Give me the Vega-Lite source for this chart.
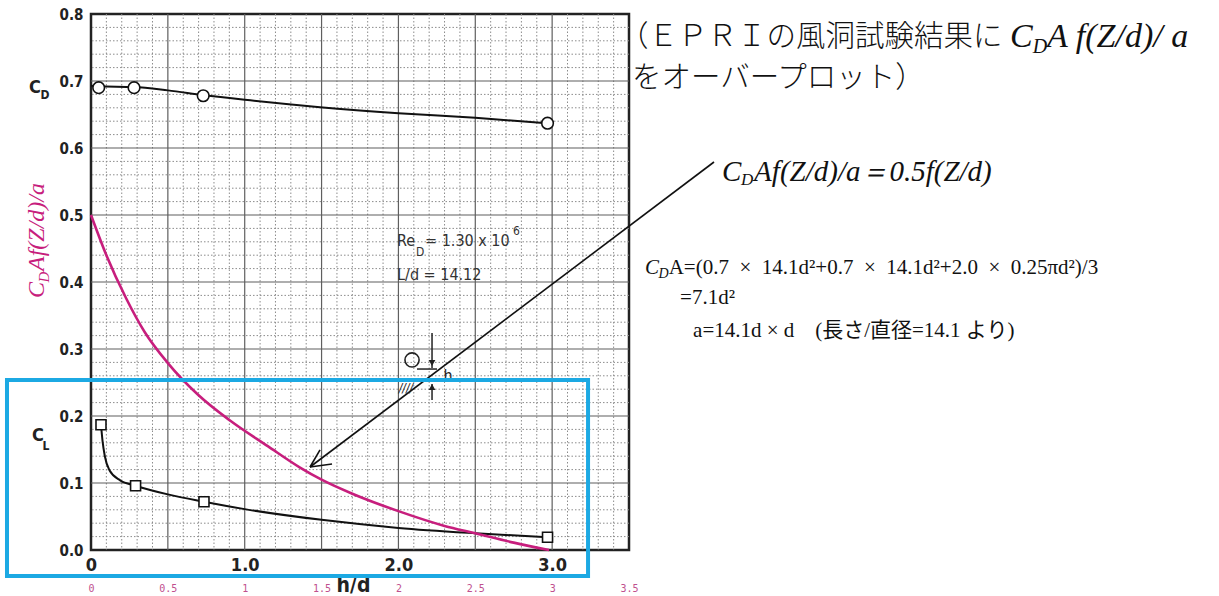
{
  "$schema": "https://vega.github.io/schema/vega-lite/v6.json",
  "width": 538,
  "height": 536,
  "autosize": {"type": "none"},
  "padding": {"left": 91, "top": 14, "right": 590, "bottom": 46},
  "background": "white",
  "config": {"view": {"stroke": "#222", "strokeWidth": 2.5}},
  "resolve": {"axis": {"x": "independent", "y": "independent"}},
  "datasets": {
    "gridx": [
      {"v": 0.1, "k": "minor"}, {"v": 0.2, "k": "minor"}, {"v": 0.3, "k": "minor"}, {"v": 0.4, "k": "minor"},
      {"v": 0.6, "k": "minor"}, {"v": 0.7, "k": "minor"}, {"v": 0.8, "k": "minor"}, {"v": 0.9, "k": "minor"},
      {"v": 1.1, "k": "minor"}, {"v": 1.2, "k": "minor"}, {"v": 1.3, "k": "minor"}, {"v": 1.4, "k": "minor"},
      {"v": 1.6, "k": "minor"}, {"v": 1.7, "k": "minor"}, {"v": 1.8, "k": "minor"}, {"v": 1.9, "k": "minor"},
      {"v": 2.1, "k": "minor"}, {"v": 2.2, "k": "minor"}, {"v": 2.3, "k": "minor"}, {"v": 2.4, "k": "minor"},
      {"v": 2.6, "k": "minor"}, {"v": 2.7, "k": "minor"}, {"v": 2.8, "k": "minor"}, {"v": 2.9, "k": "minor"},
      {"v": 3.1, "k": "minor"}, {"v": 3.2, "k": "minor"}, {"v": 3.3, "k": "minor"}, {"v": 3.4, "k": "minor"},
      {"v": 0.5, "k": "major"}, {"v": 1.0, "k": "major"}, {"v": 1.5, "k": "major"}, {"v": 2.0, "k": "major"},
      {"v": 2.5, "k": "major"}, {"v": 3.0, "k": "major"}
    ],
    "gridy": [
      {"v": 0.02, "k": "minor"}, {"v": 0.04, "k": "minor"}, {"v": 0.06, "k": "minor"}, {"v": 0.08, "k": "minor"},
      {"v": 0.12, "k": "minor"}, {"v": 0.14, "k": "minor"}, {"v": 0.16, "k": "minor"}, {"v": 0.18, "k": "minor"},
      {"v": 0.22, "k": "minor"}, {"v": 0.24, "k": "minor"}, {"v": 0.26, "k": "minor"}, {"v": 0.28, "k": "minor"},
      {"v": 0.32, "k": "minor"}, {"v": 0.34, "k": "minor"}, {"v": 0.36, "k": "minor"}, {"v": 0.38, "k": "minor"},
      {"v": 0.42, "k": "minor"}, {"v": 0.44, "k": "minor"}, {"v": 0.46, "k": "minor"}, {"v": 0.48, "k": "minor"},
      {"v": 0.52, "k": "minor"}, {"v": 0.54, "k": "minor"}, {"v": 0.56, "k": "minor"}, {"v": 0.58, "k": "minor"},
      {"v": 0.62, "k": "minor"}, {"v": 0.64, "k": "minor"}, {"v": 0.66, "k": "minor"}, {"v": 0.68, "k": "minor"},
      {"v": 0.72, "k": "minor"}, {"v": 0.74, "k": "minor"}, {"v": 0.76, "k": "minor"}, {"v": 0.78, "k": "minor"},
      {"v": 0.1, "k": "major"}, {"v": 0.2, "k": "major"}, {"v": 0.3, "k": "major"}, {"v": 0.4, "k": "major"},
      {"v": 0.5, "k": "major"}, {"v": 0.6, "k": "major"}, {"v": 0.7, "k": "major"}
    ],
    "cd": [
      {"h": 0.0, "v": 0.693}, {"h": 0.05, "v": 0.692}, {"h": 0.28, "v": 0.691}, {"h": 0.5, "v": 0.686},
      {"h": 0.73, "v": 0.679}, {"h": 1.0, "v": 0.672}, {"h": 1.49, "v": 0.661}, {"h": 2.0, "v": 0.652},
      {"h": 2.5, "v": 0.645}, {"h": 2.97, "v": 0.637}
    ],
    "cdpts": [
      {"h": 0.05, "v": 0.69}, {"h": 0.28, "v": 0.69}, {"h": 0.73, "v": 0.678}, {"h": 2.97, "v": 0.637}
    ],
    "cl": [
      {"h": 0.065, "v": 0.187}, {"h": 0.075, "v": 0.163}, {"h": 0.09, "v": 0.14}, {"h": 0.12, "v": 0.119},
      {"h": 0.19, "v": 0.104}, {"h": 0.29, "v": 0.096}, {"h": 0.5, "v": 0.083}, {"h": 0.735, "v": 0.072},
      {"h": 1.0, "v": 0.061}, {"h": 1.5, "v": 0.045}, {"h": 2.0, "v": 0.033}, {"h": 2.5, "v": 0.025},
      {"h": 2.97, "v": 0.019}
    ],
    "clpts": [
      {"h": 0.065, "v": 0.187}, {"h": 0.29, "v": 0.096}, {"h": 0.735, "v": 0.072}, {"h": 2.97, "v": 0.019}
    ],
    "pink": [
      {"h": 0.0, "v": 0.5}, {"h": 0.1, "v": 0.44}, {"h": 0.23, "v": 0.375}, {"h": 0.35, "v": 0.325},
      {"h": 0.5, "v": 0.279}, {"h": 0.7, "v": 0.231}, {"h": 0.9, "v": 0.194}, {"h": 1.15, "v": 0.155},
      {"h": 1.36, "v": 0.123}, {"h": 1.5, "v": 0.105}, {"h": 1.7, "v": 0.084}, {"h": 2.0, "v": 0.058},
      {"h": 2.3, "v": 0.036}, {"h": 2.5, "v": 0.025}, {"h": 2.75, "v": 0.011}, {"h": 2.98, "v": 0.0}
    ],
    "notes": [
      {"g": "jp", "x": 3.435, "y": 0.766, "t": "（ＥＰＲＩの風洞試験結果に"},
      {"g": "jp", "x": 3.519, "y": 0.705, "t": "をオーバープロット）"},
      {"g": "it34", "x": 5.979, "y": 0.766, "t": "C"},
      {"g": "sub20", "x": 6.127, "y": 0.751, "t": "D"},
      {"g": "it34", "x": 6.22, "y": 0.766, "t": "A f(Z/d)/ a"},
      {"g": "it29", "x": 4.105, "y": 0.564, "t": "C"},
      {"g": "sub17", "x": 4.229, "y": 0.552, "t": "D"},
      {"g": "it29", "x": 4.314, "y": 0.564, "t": "Af(Z/d)/a＝0.5f(Z/d)"},
      {"g": "it21", "x": 3.604, "y": 0.421, "t": "C"},
      {"g": "sub14", "x": 3.692, "y": 0.412, "t": "D"},
      {"g": "rm21", "x": 3.758, "y": 0.421, "t": "A=(0.7\u2002×\u200214.1d²+0.7\u2002×\u200214.1d²+2.0\u2002×\u20020.25πd²)/3"},
      {"g": "rm21", "x": 3.832, "y": 0.376, "t": "=7.1d²"},
      {"g": "rm21", "x": 3.917, "y": 0.327, "t": "a=14.1d × d"},
      {"g": "rm21", "x": 4.711, "y": 0.327, "t": "(長さ/直径=14.1 より)"},
      {"g": "ax18", "x": -0.3644, "y": 0.6896, "t": "C"},
      {"g": "ax12", "x": -0.2993, "y": 0.679, "t": "D"},
      {"g": "ax18", "x": -0.3448, "y": 0.1701, "t": "C"},
      {"g": "ax12", "x": -0.2928, "y": 0.1552, "t": "L"},
      {"g": "re16", "x": 1.9909, "y": 0.4612, "t": "Re"},
      {"g": "re12", "x": 2.1145, "y": 0.4448, "t": "D"},
      {"g": "re16", "x": 2.173, "y": 0.4612, "t": "= 1.30 x 10"},
      {"g": "re12", "x": 2.7456, "y": 0.4761, "t": "6"},
      {"g": "re16", "x": 1.9909, "y": 0.4104, "t": "L/d = 14.12"},
      {"g": "pk", "x": -0.3513, "y": 0.388, "t": "C"},
      {"g": "pksub", "x": -0.3058, "y": 0.4075, "t": "D"},
      {"g": "pkl", "x": -0.3513, "y": 0.4164, "t": "Af(Z/d)/a"},
      {"g": "h16", "x": 2.323, "y": 0.2597, "t": "h"},
      {"g": "hatch", "x": 2.049, "y": 0.2418, "t": "////"}
    ],
    "arrow": [
      {"x": 4.053, "y": 0.5791, "x2": 1.4248, "y2": 0.1239},
      {"x": 1.4248, "y": 0.1239, "x2": 1.568, "y2": 0.1284},
      {"x": 1.4248, "y": 0.1239, "x2": 1.49, "y2": 0.1493}
    ],
    "inset": [
      {"x": 2.121, "y": 0.2701, "x2": 2.251, "y2": 0.2701},
      {"x": 2.2186, "y": 0.3239, "x2": 2.2186, "y2": 0.2716},
      {"x": 1.958, "y": 0.2537, "x2": 2.271, "y2": 0.2537},
      {"x": 2.2186, "y": 0.2239, "x2": 2.2186, "y2": 0.2478}
    ],
    "insetcircle": [{"x": 2.0885, "y": 0.2836}],
    "tridown": [{"x": 2.2186, "y": 0.2791}],
    "triup": [{"x": 2.2186, "y": 0.2433}],
    "box": [{"x": -0.5465, "x2": 3.2336, "y": 0.2537, "y2": -0.0388}]
  },
  "layer": [
    {
      "data": {"name": "gridx"},
      "transform": [{"filter": "datum.k == 'minor'"}],
      "mark": {"type": "rule", "stroke": "#8c8c8c", "strokeWidth": 1, "strokeDash": [1.5, 2]},
      "encoding": {"x": {"field": "v", "type": "quantitative", "scale": {"domain": [0, 3.5], "nice": false, "zero": false}, "axis": null}}
    },
    {
      "data": {"name": "gridy"},
      "transform": [{"filter": "datum.k == 'minor'"}],
      "mark": {"type": "rule", "stroke": "#8c8c8c", "strokeWidth": 1, "strokeDash": [1.5, 2]},
      "encoding": {"y": {"field": "v", "type": "quantitative", "scale": {"domain": [0, 0.8], "nice": false, "zero": false}, "axis": null}}
    },
    {
      "data": {"name": "gridx"},
      "transform": [{"filter": "datum.k == 'major'"}],
      "mark": {"type": "rule", "stroke": "#5f5f5f", "strokeWidth": 1.2},
      "encoding": {"x": {"field": "v", "type": "quantitative", "axis": null}}
    },
    {
      "data": {"name": "gridy"},
      "transform": [{"filter": "datum.k == 'major'"}],
      "mark": {"type": "rule", "stroke": "#5f5f5f", "strokeWidth": 1.2},
      "encoding": {"y": {"field": "v", "type": "quantitative", "axis": null}}
    },
    {
      "data": {"name": "cd"},
      "mark": {"type": "line", "color": "#111", "strokeWidth": 2, "interpolate": "monotone"},
      "encoding": {
        "x": {"field": "h", "type": "quantitative",
          "axis": {"orient": "bottom", "values": [0, 1, 2, 3], "labelExpr": "datum.value == 0 ? '0' : format(datum.value, '.1f')",
            "labelFont": "DejaVu Sans Condensed", "labelFontWeight": "bold", "labelFontSize": 18, "labelColor": "#222",
            "labelPadding": 6, "labelFlush": false, "ticks": false, "domain": false, "grid": false,
            "title": "h/d", "titleFont": "DejaVu Sans Condensed", "titleFontWeight": "bold", "titleFontSize": 21, "titleColor": "#222",
            "titleX": 262, "titleY": 24, "titleAlign": "center", "titleBaseline": "top"}},
        "y": {"field": "v", "type": "quantitative",
          "axis": {"orient": "left", "values": [0, 0.1, 0.2, 0.3, 0.4, 0.5, 0.6, 0.7, 0.8], "format": ".1f",
            "labelFont": "DejaVu Sans Condensed", "labelFontWeight": "bold", "labelFontSize": 15, "labelColor": "#222",
            "labelPadding": 8, "labelFlush": false, "ticks": false, "domain": false, "grid": false, "title": null}}
      }
    },
    {
      "data": {"name": "cdpts"},
      "mark": {"type": "point", "shape": "circle", "filled": true, "fill": "white", "stroke": "#111", "strokeWidth": 1.6, "size": 135, "opacity": 1},
      "encoding": {"x": {"field": "h", "type": "quantitative", "axis": null}, "y": {"field": "v", "type": "quantitative", "axis": null}}
    },
    {
      "data": {"name": "cl"},
      "mark": {"type": "line", "color": "#111", "strokeWidth": 2, "interpolate": "monotone"},
      "encoding": {"x": {"field": "h", "type": "quantitative", "axis": null}, "y": {"field": "v", "type": "quantitative", "axis": null}}
    },
    {
      "data": {"name": "clpts"},
      "mark": {"type": "point", "shape": "square", "filled": true, "fill": "white", "stroke": "#111", "strokeWidth": 1.6, "size": 100, "opacity": 1},
      "encoding": {"x": {"field": "h", "type": "quantitative", "axis": null}, "y": {"field": "v", "type": "quantitative", "axis": null}}
    },
    {
      "data": {"name": "pink"},
      "mark": {"type": "line", "color": "#C71E7D", "strokeWidth": 2.6, "interpolate": "monotone"},
      "encoding": {
        "x": {"field": "h", "type": "quantitative",
          "axis": {"orient": "bottom", "values": [0, 0.5, 1, 1.5, 2, 2.5, 3, 3.5],
            "labelExpr": "datum.value % 1 == 0 ? format(datum.value, 'd') : format(datum.value, '.1f')",
            "labelFont": "DejaVu Sans Mono", "labelFontSize": 10, "labelColor": "#C0508E",
            "labelPadding": 33, "labelFlush": false, "labelOverlap": false, "ticks": false, "domain": false, "grid": false, "title": null}},
        "y": {"field": "v", "type": "quantitative", "axis": null}
      }
    },
    {
      "data": {"name": "arrow"},
      "mark": {"type": "rule", "color": "#111", "strokeWidth": 1.6},
      "encoding": {
        "x": {"field": "x", "type": "quantitative", "axis": null}, "y": {"field": "y", "type": "quantitative", "axis": null},
        "x2": {"field": "x2"}, "y2": {"field": "y2"}
      }
    },
    {
      "data": {"name": "inset"},
      "mark": {"type": "rule", "color": "#222", "strokeWidth": 1.5},
      "encoding": {
        "x": {"field": "x", "type": "quantitative", "axis": null}, "y": {"field": "y", "type": "quantitative", "axis": null},
        "x2": {"field": "x2"}, "y2": {"field": "y2"}
      }
    },
    {
      "data": {"name": "insetcircle"},
      "mark": {"type": "point", "shape": "circle", "filled": false, "stroke": "#222", "strokeWidth": 1.6, "size": 200, "opacity": 1},
      "encoding": {"x": {"field": "x", "type": "quantitative", "axis": null}, "y": {"field": "y", "type": "quantitative", "axis": null}}
    },
    {
      "data": {"name": "tridown"},
      "mark": {"type": "point", "shape": "triangle-down", "filled": true, "color": "#222", "size": 45, "opacity": 1},
      "encoding": {"x": {"field": "x", "type": "quantitative", "axis": null}, "y": {"field": "y", "type": "quantitative", "axis": null}}
    },
    {
      "data": {"name": "triup"},
      "mark": {"type": "point", "shape": "triangle-up", "filled": true, "color": "#222", "size": 45, "opacity": 1},
      "encoding": {"x": {"field": "x", "type": "quantitative", "axis": null}, "y": {"field": "y", "type": "quantitative", "axis": null}}
    },
    {
      "data": {"name": "notes"},
      "transform": [{"filter": "datum.g == 'jp'"}],
      "mark": {"type": "text", "font": "Noto Sans CJK JP", "fontWeight": 300, "fontSize": 29.5, "align": "left", "baseline": "middle", "color": "#111"},
      "encoding": {"x": {"field": "x", "type": "quantitative", "axis": null}, "y": {"field": "y", "type": "quantitative", "axis": null}, "text": {"field": "t"}}
    },
    {
      "data": {"name": "notes"},
      "transform": [{"filter": "datum.g == 'it34'"}],
      "mark": {"type": "text", "font": "Liberation Serif", "fontStyle": "italic", "fontSize": 34, "align": "left", "baseline": "middle", "color": "#111"},
      "encoding": {"x": {"field": "x", "type": "quantitative", "axis": null}, "y": {"field": "y", "type": "quantitative", "axis": null}, "text": {"field": "t"}}
    },
    {
      "data": {"name": "notes"},
      "transform": [{"filter": "datum.g == 'sub20'"}],
      "mark": {"type": "text", "font": "Liberation Serif", "fontStyle": "italic", "fontSize": 20, "align": "left", "baseline": "middle", "color": "#111"},
      "encoding": {"x": {"field": "x", "type": "quantitative", "axis": null}, "y": {"field": "y", "type": "quantitative", "axis": null}, "text": {"field": "t"}}
    },
    {
      "data": {"name": "notes"},
      "transform": [{"filter": "datum.g == 'it29'"}],
      "mark": {"type": "text", "font": "Liberation Serif", "fontStyle": "italic", "fontSize": 29, "align": "left", "baseline": "middle", "color": "#111"},
      "encoding": {"x": {"field": "x", "type": "quantitative", "axis": null}, "y": {"field": "y", "type": "quantitative", "axis": null}, "text": {"field": "t"}}
    },
    {
      "data": {"name": "notes"},
      "transform": [{"filter": "datum.g == 'sub17'"}],
      "mark": {"type": "text", "font": "Liberation Serif", "fontStyle": "italic", "fontSize": 17, "align": "left", "baseline": "middle", "color": "#111"},
      "encoding": {"x": {"field": "x", "type": "quantitative", "axis": null}, "y": {"field": "y", "type": "quantitative", "axis": null}, "text": {"field": "t"}}
    },
    {
      "data": {"name": "notes"},
      "transform": [{"filter": "datum.g == 'it21'"}],
      "mark": {"type": "text", "font": "Liberation Serif", "fontStyle": "italic", "fontSize": 21, "align": "left", "baseline": "middle", "color": "#111"},
      "encoding": {"x": {"field": "x", "type": "quantitative", "axis": null}, "y": {"field": "y", "type": "quantitative", "axis": null}, "text": {"field": "t"}}
    },
    {
      "data": {"name": "notes"},
      "transform": [{"filter": "datum.g == 'sub14'"}],
      "mark": {"type": "text", "font": "Liberation Serif", "fontStyle": "italic", "fontSize": 14, "align": "left", "baseline": "middle", "color": "#111"},
      "encoding": {"x": {"field": "x", "type": "quantitative", "axis": null}, "y": {"field": "y", "type": "quantitative", "axis": null}, "text": {"field": "t"}}
    },
    {
      "data": {"name": "notes"},
      "transform": [{"filter": "datum.g == 'rm21'"}],
      "mark": {"type": "text", "font": "Liberation Serif, Noto Sans CJK JP", "fontSize": 21, "align": "left", "baseline": "middle", "color": "#111"},
      "encoding": {"x": {"field": "x", "type": "quantitative", "axis": null}, "y": {"field": "y", "type": "quantitative", "axis": null}, "text": {"field": "t"}}
    },
    {
      "data": {"name": "notes"},
      "transform": [{"filter": "datum.g == 'ax18'"}],
      "mark": {"type": "text", "font": "DejaVu Sans Condensed", "fontWeight": "bold", "fontSize": 18, "align": "center", "baseline": "middle", "color": "#222"},
      "encoding": {"x": {"field": "x", "type": "quantitative", "axis": null}, "y": {"field": "y", "type": "quantitative", "axis": null}, "text": {"field": "t"}}
    },
    {
      "data": {"name": "notes"},
      "transform": [{"filter": "datum.g == 'ax12'"}],
      "mark": {"type": "text", "font": "DejaVu Sans Condensed", "fontWeight": "bold", "fontSize": 12, "align": "center", "baseline": "middle", "color": "#222"},
      "encoding": {"x": {"field": "x", "type": "quantitative", "axis": null}, "y": {"field": "y", "type": "quantitative", "axis": null}, "text": {"field": "t"}}
    },
    {
      "data": {"name": "notes"},
      "transform": [{"filter": "datum.g == 're16'"}],
      "mark": {"type": "text", "font": "DejaVu Sans Condensed", "fontSize": 16, "align": "left", "baseline": "middle", "color": "#333"},
      "encoding": {"x": {"field": "x", "type": "quantitative", "axis": null}, "y": {"field": "y", "type": "quantitative", "axis": null}, "text": {"field": "t"}}
    },
    {
      "data": {"name": "notes"},
      "transform": [{"filter": "datum.g == 're12'"}],
      "mark": {"type": "text", "font": "DejaVu Sans Condensed", "fontSize": 12, "align": "left", "baseline": "middle", "color": "#333"},
      "encoding": {"x": {"field": "x", "type": "quantitative", "axis": null}, "y": {"field": "y", "type": "quantitative", "axis": null}, "text": {"field": "t"}}
    },
    {
      "data": {"name": "notes"},
      "transform": [{"filter": "datum.g == 'pk'"}],
      "mark": {"type": "text", "font": "Liberation Serif", "fontStyle": "italic", "fontSize": 24, "angle": 270, "align": "center", "baseline": "middle", "color": "#C71E7D"},
      "encoding": {"x": {"field": "x", "type": "quantitative", "axis": null}, "y": {"field": "y", "type": "quantitative", "axis": null}, "text": {"field": "t"}}
    },
    {
      "data": {"name": "notes"},
      "transform": [{"filter": "datum.g == 'pkl'"}],
      "mark": {"type": "text", "font": "Liberation Serif", "fontStyle": "italic", "fontSize": 24, "angle": 270, "align": "left", "baseline": "middle", "color": "#C71E7D"},
      "encoding": {"x": {"field": "x", "type": "quantitative", "axis": null}, "y": {"field": "y", "type": "quantitative", "axis": null}, "text": {"field": "t"}}
    },
    {
      "data": {"name": "notes"},
      "transform": [{"filter": "datum.g == 'pksub'"}],
      "mark": {"type": "text", "font": "Liberation Serif", "fontStyle": "italic", "fontSize": 15, "angle": 270, "align": "center", "baseline": "middle", "color": "#C71E7D"},
      "encoding": {"x": {"field": "x", "type": "quantitative", "axis": null}, "y": {"field": "y", "type": "quantitative", "axis": null}, "text": {"field": "t"}}
    },
    {
      "data": {"name": "notes"},
      "transform": [{"filter": "datum.g == 'h16'"}],
      "mark": {"type": "text", "font": "DejaVu Sans Condensed", "fontSize": 16, "align": "center", "baseline": "middle", "color": "#222"},
      "encoding": {"x": {"field": "x", "type": "quantitative", "axis": null}, "y": {"field": "y", "type": "quantitative", "axis": null}, "text": {"field": "t"}}
    },
    {
      "data": {"name": "notes"},
      "transform": [{"filter": "datum.g == 'hatch'"}],
      "mark": {"type": "text", "font": "DejaVu Sans Condensed", "fontStyle": "italic", "fontSize": 12, "align": "center", "baseline": "middle", "color": "#222"},
      "encoding": {"x": {"field": "x", "type": "quantitative", "axis": null}, "y": {"field": "y", "type": "quantitative", "axis": null}, "text": {"field": "t"}}
    },
    {
      "data": {"name": "box"},
      "mark": {"type": "rect", "filled": false, "stroke": "#1CA9E3", "strokeWidth": 4},
      "encoding": {
        "x": {"field": "x", "type": "quantitative", "axis": null}, "x2": {"field": "x2"},
        "y": {"field": "y", "type": "quantitative", "axis": null}, "y2": {"field": "y2"}
      }
    }
  ]
}
